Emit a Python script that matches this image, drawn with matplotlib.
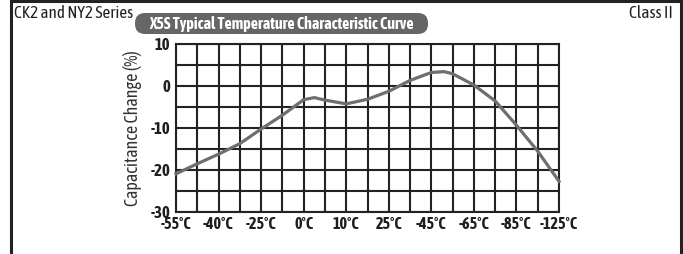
import matplotlib
matplotlib.use('Agg')
import matplotlib.pyplot as plt
from matplotlib import font_manager
from matplotlib.patches import FancyBboxPatch
from matplotlib.lines import Line2D
from matplotlib.transforms import IdentityTransform

names = set(f.name for f in font_manager.fontManager.ttflist)
cond = 'Asap Condensed' if 'Asap Condensed' in names else 'DejaVu Sans'
plt.rcParams['font.family'] = [cond, 'DejaVu Sans']
plt.rcParams['font.stretch'] = 'condensed'
plt.rcParams['axes.unicode_minus'] = False

# data
temp_labels = ['-55°C', '-40°C', '-25°C', '0°C', '10°C', '25°C', '-45°C', '-65°C', '-85°C', '-125°C']
curve_pos = [0, 0.5, 1, 1.5, 2, 2.5, 3, 3.25, 3.5, 4, 4.5, 5, 5.5, 6, 6.3, 6.5, 7, 7.5, 8, 8.5, 9]
curve_val = [-21, -18.6, -16.3, -13.8, -10.3, -7, -3.3, -2.8, -3.4, -4.3, -3.2, -1.3, 1.3, 3.2, 3.4, 2.9, 0.2, -3.6, -9.4, -15.6, -22.8]
y_ticks = [-30, -20, -10, 0, 10]
y_minor = [-25, -15, -5, 5]

W, H = 683, 254
fig = plt.figure(figsize=(W/100, H/100), dpi=100)
ax = fig.add_axes([176/W, 1-211.5/H, (559-176)/W, (211.5-44)/H])

ax.plot(curve_pos, curve_val, color='#6e6e6e', lw=2.3, zorder=3, clip_on=False)

ax.set_xlim(0, len(temp_labels)-1)
ax.set_ylim(-30, 10)
ax.set_xticks(range(len(temp_labels)))
ax.set_xticklabels(temp_labels)
ax.set_xticks([i+0.5 for i in range(len(temp_labels)-1)], minor=True)
ax.set_yticks(y_ticks)
ax.set_yticks(y_minor, minor=True)
ax.grid(True, which='both', color='#222222', lw=1.5)
ax.set_axisbelow(True)
for s in ax.spines.values():
    s.set_color('#222222')
    s.set_linewidth(1.5)
ax.tick_params(which='both', length=0)
ax.tick_params(axis='x', pad=3)
ax.tick_params(axis='y', pad=4)
for t in ax.get_xticklabels():
    t.set_fontweight('bold')
    t.set_fontsize(11.5)
    t.set_color('#1e1e1e')
for t in ax.get_yticklabels():
    t.set_fontweight('bold')
    t.set_fontsize(12)
    t.set_color('#1e1e1e')
ax.set_ylabel('Capacitance Change (%)', fontsize=13, color='#333333', labelpad=6)

# frame round the panel
fig.add_artist(Line2D([11/W, 11/W], [0, 1], color='#222222', lw=2.2))
fig.add_artist(Line2D([681/W, 681/W], [0, 1], color='#222222', lw=2.2))
fig.add_artist(Line2D([11/W, 681/W], [1-1/H, 1-1/H], color='#222222', lw=2.2))

fig.text(14/W, 1-13/H, 'CK2 and NY2 Series', fontsize=12.3, color='#222222', va='center', ha='left')
fig.text(673/W, 1-13/H, 'Class II', fontsize=12.5, color='#222222', va='center', ha='right')

# title pill, in pixel coordinates
badge = FancyBboxPatch((135, H-34), 293, 21, boxstyle='round,pad=0,rounding_size=10',
                       transform=IdentityTransform(), facecolor='#666666', edgecolor='none')
fig.add_artist(badge)
fig.text(281/W, 1-24/H, 'X5S Typical Temperature Characteristic Curve', fontsize=11.5,
         fontweight='bold', color='white', va='center', ha='center')

fig.savefig('out.png', dpi=100)
